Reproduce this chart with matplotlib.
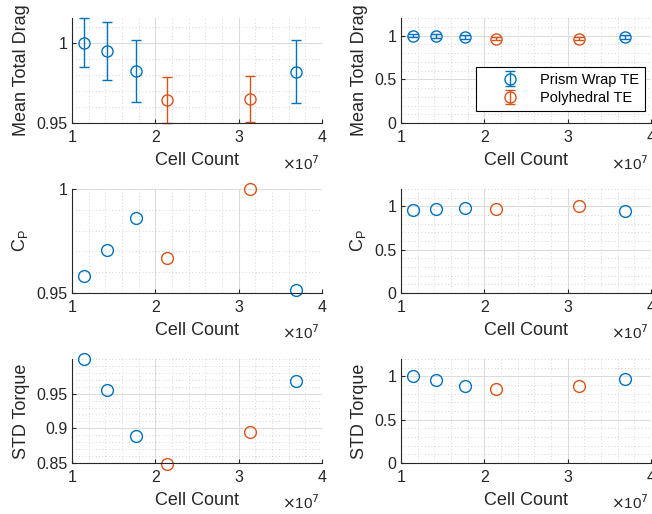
import numpy as np
import matplotlib.pyplot as plt
from matplotlib.ticker import MultipleLocator, FuncFormatter

plt.rcParams['font.family'] = ['Liberation Sans', 'DejaVu Sans']

# cell counts
x_prism = [1.14e7, 1.42e7, 1.77e7, 3.69e7]
x_poly = [2.14e7, 3.14e7]

# mean total drag (normalised) and error bars
drag_prism = [1.0, 0.995, 0.9827, 0.9821]
drag_prism_err = [0.0153, 0.018, 0.0194, 0.0198]
drag_poly = [0.9644, 0.965]
drag_poly_err = [0.0141, 0.0144]

# power coefficient
cp_prism = [0.9582, 0.9706, 0.9861, 0.9516]
cp_poly = [0.9669, 1.0]

# std torque
std_prism = [1.0, 0.9553, 0.8885, 0.9678]
std_poly = [0.8486, 0.8942]

blue = '#0072BD'
orange = '#D95319'
axc = '#262626'

fig = plt.figure(figsize=(6.52, 5.14), dpi=100)

lefts = [72 / 652, 401 / 652]
w = 250 / 652
rows = [(18, 123), (189, 293), (359, 463)]


def make_ax(col, row):
    top, bot = rows[row]
    ax = fig.add_axes([lefts[col], 1 - bot / 514, w, (bot - top) / 514])
    for s in ['top', 'right']:
        ax.spines[s].set_visible(False)
    for s in ['left', 'bottom']:
        ax.spines[s].set_color(axc)
        ax.spines[s].set_linewidth(0.8)
    ax.set_xlim(1e7, 4e7)
    ax.set_xticks([1e7, 2e7, 3e7, 4e7])
    ax.xaxis.set_major_formatter(FuncFormatter(lambda v, p: '%g' % (v / 1e7)))
    ax.yaxis.set_major_formatter(FuncFormatter(lambda v, p: '%g' % round(v, 4)))
    ax.xaxis.set_minor_locator(MultipleLocator(0.2e7))
    ax.tick_params(which='both', direction='in', colors=axc, labelsize=11.5)
    ax.tick_params(which='minor', length=0)
    ax.tick_params(which='major', length=3)
    ax.tick_params(axis='x', pad=5)
    ax.grid(True, which='major', color='#dcdcdc', lw=0.8)
    ax.grid(True, which='minor', color='#c8c8c8', lw=0.6, ls=(0, (1, 3)))
    ax.set_axisbelow(True)
    ax.set_xlabel('Cell Count', fontsize=13, color=axc, labelpad=5)
    ax.text(0.99, -0.385, r'$\times$10$^7$', transform=ax.transAxes, ha='right',
            va='center', fontsize=11, color=axc)
    return ax


mk = dict(fmt='o', ms=8, mfc='none', mew=1.0, lw=1.0, capsize=3.8,
          capthick=1.0, clip_on=False)
sc = dict(marker='o', ls='none', ms=8.5, mfc='none', mew=1.0, clip_on=False)

for col in range(2):
    # drag
    ax = make_ax(col, 0)
    ax.errorbar(x_prism, drag_prism, yerr=drag_prism_err, color=blue,
                label='Prism Wrap TE', **mk)
    ax.errorbar(x_poly, drag_poly, yerr=drag_poly_err, color=orange,
                label='Polyhedral TE', **mk)
    ax.set_ylabel('Mean Total Drag', fontsize=13, color=axc)
    if col == 0:
        ax.set_ylim(0.95, 1.0156)
        ax.set_yticks([0.95, 1.0])
        ax.yaxis.set_minor_locator(MultipleLocator(0.01))
    else:
        ax.set_ylim(0, 1.2)
        ax.set_yticks([0, 0.5, 1])
        ax.yaxis.set_minor_locator(MultipleLocator(0.1))
        leg = ax.legend(loc='lower right', bbox_to_anchor=(0.976, 0.114),
                        borderaxespad=0, fancybox=False, framealpha=1,
                        edgecolor='black', fontsize=10.5, handletextpad=0.14,
                        borderpad=0.4, labelspacing=0.3, handlelength=3.84)
        leg.get_frame().set_linewidth(0.8)

    # Cp
    ax = make_ax(col, 1)
    ax.plot(x_prism, cp_prism, color=blue, **sc)
    ax.plot(x_poly, cp_poly, color=orange, **sc)
    ax.set_ylabel('C$_\\mathregular{P}$', fontsize=13, color=axc)
    if col == 0:
        ax.set_ylim(0.95, 1.0)
        ax.set_yticks([0.95, 1.0])
        ax.yaxis.set_minor_locator(MultipleLocator(0.01))
    else:
        ax.set_ylim(0, 1.2)
        ax.set_yticks([0, 0.5, 1])
        ax.yaxis.set_minor_locator(MultipleLocator(0.1))

    # std torque
    ax = make_ax(col, 2)
    ax.plot(x_prism, std_prism, color=blue, **sc)
    ax.plot(x_poly, std_poly, color=orange, **sc)
    ax.set_ylabel('STD Torque', fontsize=13, color=axc)
    if col == 0:
        ax.set_ylim(0.85, 1.0)
        ax.set_yticks([0.85, 0.9, 0.95])
        ax.yaxis.set_minor_locator(MultipleLocator(0.01))
    else:
        ax.set_ylim(0, 1.2)
        ax.set_yticks([0, 0.5, 1])
        ax.yaxis.set_minor_locator(MultipleLocator(0.1))

fig.savefig('out.png', dpi=100)
